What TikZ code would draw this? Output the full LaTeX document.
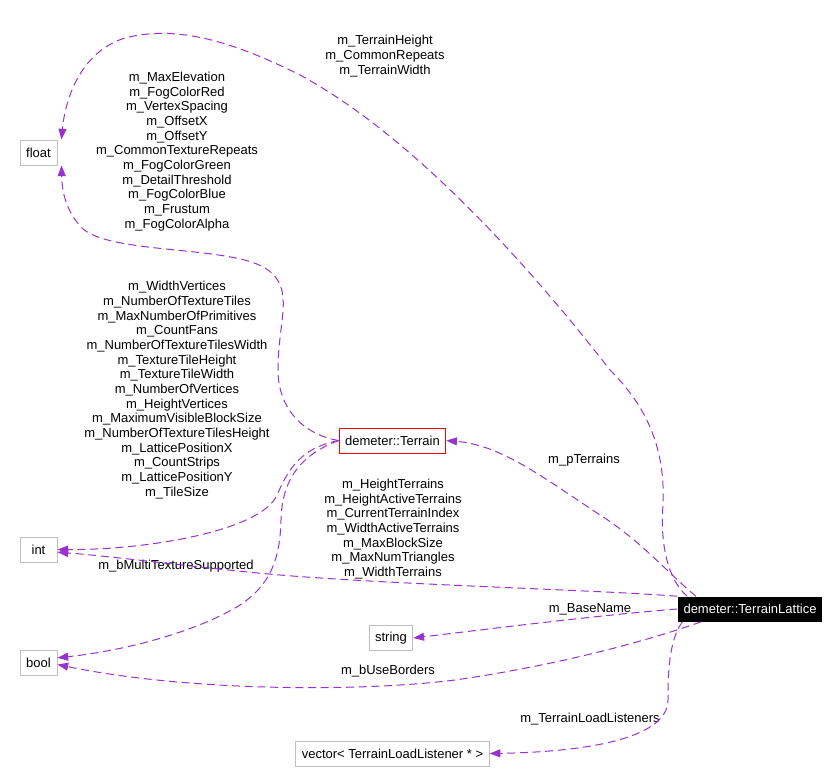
\documentclass[tikz,border=0pt]{standalone}
\usepackage{fontspec}
\setmainfont{Liberation Sans}
\usetikzlibrary{arrows.meta}
\definecolor{edgepurple}{HTML}{9A32CD}
\definecolor{boxgray}{HTML}{BFBFBF}
\begin{document}
\begin{tikzpicture}[x=0.75pt,y=-0.75pt,
	every node/.style={font=\fontsize{9.75pt}{11pt}\selectfont},
	typebox/.style={draw=boxgray,line width=0.75pt,minimum height=18.75pt,minimum width=27.75pt,inner xsep=4.5pt},
	lbl/.style={align=center,inner sep=0pt},
	rel/.style={draw=edgepurple,line width=0.75pt,dash pattern=on 6pt off 3.5pt,
		-{Triangle[length=8pt,width=6pt]}}]
	\useasboundingbox (0,0) rectangle (840,783);
	\node[typebox] (floatT) at (38.5,152.5) {float};
	\node[typebox] (intT) at (38.5,549.5) {int};
	\node[typebox] (boolT) at (38.5,662.5) {bool};
	\node[typebox] (stringT) at (391,638) {string};
	\node[typebox] (vectorT) at (392.5,753.5) {vector< TerrainLoadListener * >};
	\node[draw=red,line width=0.75pt,minimum height=18.75pt,inner xsep=4.5pt] (terrain) at (392.5,440.5) {demeter::Terrain};
	\node[fill=black,text=white,minimum height=18.75pt,inner xsep=4.5pt] (lattice) at (750,609) {demeter::TerrainLattice};
	% labels
	\node[lbl] (lblA) at (385,56) {m\_TerrainHeight\\m\_CommonRepeats\\m\_TerrainWidth};
	\node[lbl] (lblB) at (177,151.5) {m\_MaxElevation\\m\_FogColorRed\\m\_VertexSpacing\\m\_OffsetX\\m\_OffsetY\\m\_CommonTextureRepeats\\m\_FogColorGreen\\m\_DetailThreshold\\m\_FogColorBlue\\m\_Frustum\\m\_FogColorAlpha};
	\node[lbl] (lblC) at (177,390) {m\_WidthVertices\\m\_NumberOfTextureTiles\\m\_MaxNumberOfPrimitives\\m\_CountFans\\m\_NumberOfTextureTilesWidth\\m\_TextureTileHeight\\m\_TextureTileWidth\\m\_NumberOfVertices\\m\_HeightVertices\\m\_MaximumVisibleBlockSize\\m\_NumberOfTextureTilesHeight\\m\_LatticePositionX\\m\_CountStrips\\m\_LatticePositionY\\m\_TileSize};
	\node[lbl] (lblD) at (393,529) {m\_HeightTerrains\\m\_HeightActiveTerrains\\m\_CurrentTerrainIndex\\m\_WidthActiveTerrains\\m\_MaxBlockSize\\m\_MaxNumTriangles\\m\_WidthTerrains};
	\node[lbl] (lblE) at (176,566) {m\_bMultiTextureSupported};
	\node[lbl] (lblF) at (584,460) {m\_pTerrains};
	\node[lbl] (lblG) at (590,609) {m\_BaseName};
	\node[lbl] (lblH) at (388,671) {m\_bUseBorders};
	\node[lbl] (lblI) at (590,719) {m\_TerrainLoadListeners};
	% connectors
	\draw[rel] ([xshift=7.5pt]lattice.north west) .. controls (668,580) and (660,545) .. (663,505)
		.. controls (666,440) and (640,400) .. (610,370)
		.. controls (540,280) and (420,140) .. (300,75)
		.. controls (230,40) and (175,25) .. (125,38)
		.. controls (80,52) and (65,100) .. ([xshift=3pt]floatT.north east);
	\draw[rel] (terrain.west) .. controls (305,435) and (278,410) .. (278,370)
		.. controls (278,320) and (295,290) .. (268,270)
		.. controls (235,245) and (110,255) .. (82,228)
		.. controls (65,210) and (62,190) .. ([xshift=3pt]floatT.south east);
	\draw[rel] (terrain.west) .. controls (300,448) and (288,470) .. (277,495)
		.. controls (262,530) and (150,550) .. (intT.east);
	\draw[rel] (terrain.west) .. controls (300,455) and (282,480) .. (281,520)
		.. controls (280,560) and (270,585) .. (240,605)
		.. controls (200,630) and (130,650) .. ([yshift=3.5pt]boolT.east);
	\draw[rel] ([xshift=14pt]lattice.north west) .. controls (670,575) and (640,540) .. (600,515)
		.. controls (540,475) and (500,445) .. (terrain.east);
	\draw[rel] (lattice.north west) .. controls (600,590) and (400,585) .. (280,575)
		.. controls (200,568) and (110,556) .. ([yshift=-2pt]intT.east);
	\draw[rel] (lattice.west) .. controls (600,615) and (480,630) .. (stringT.east);
	\draw[rel] ([xshift=18pt]lattice.south west) .. controls (650,640) and (560,665) .. (455,680)
		.. controls (350,693) and (180,690) .. ([yshift=-1.5pt]boolT.east);
	\draw[rel] ([xshift=4pt]lattice.south west) .. controls (668,640) and (668,680) .. (668,700)
		.. controls (668,740) and (580,752) .. (vectorT.east);
\end{tikzpicture}
\end{document}
